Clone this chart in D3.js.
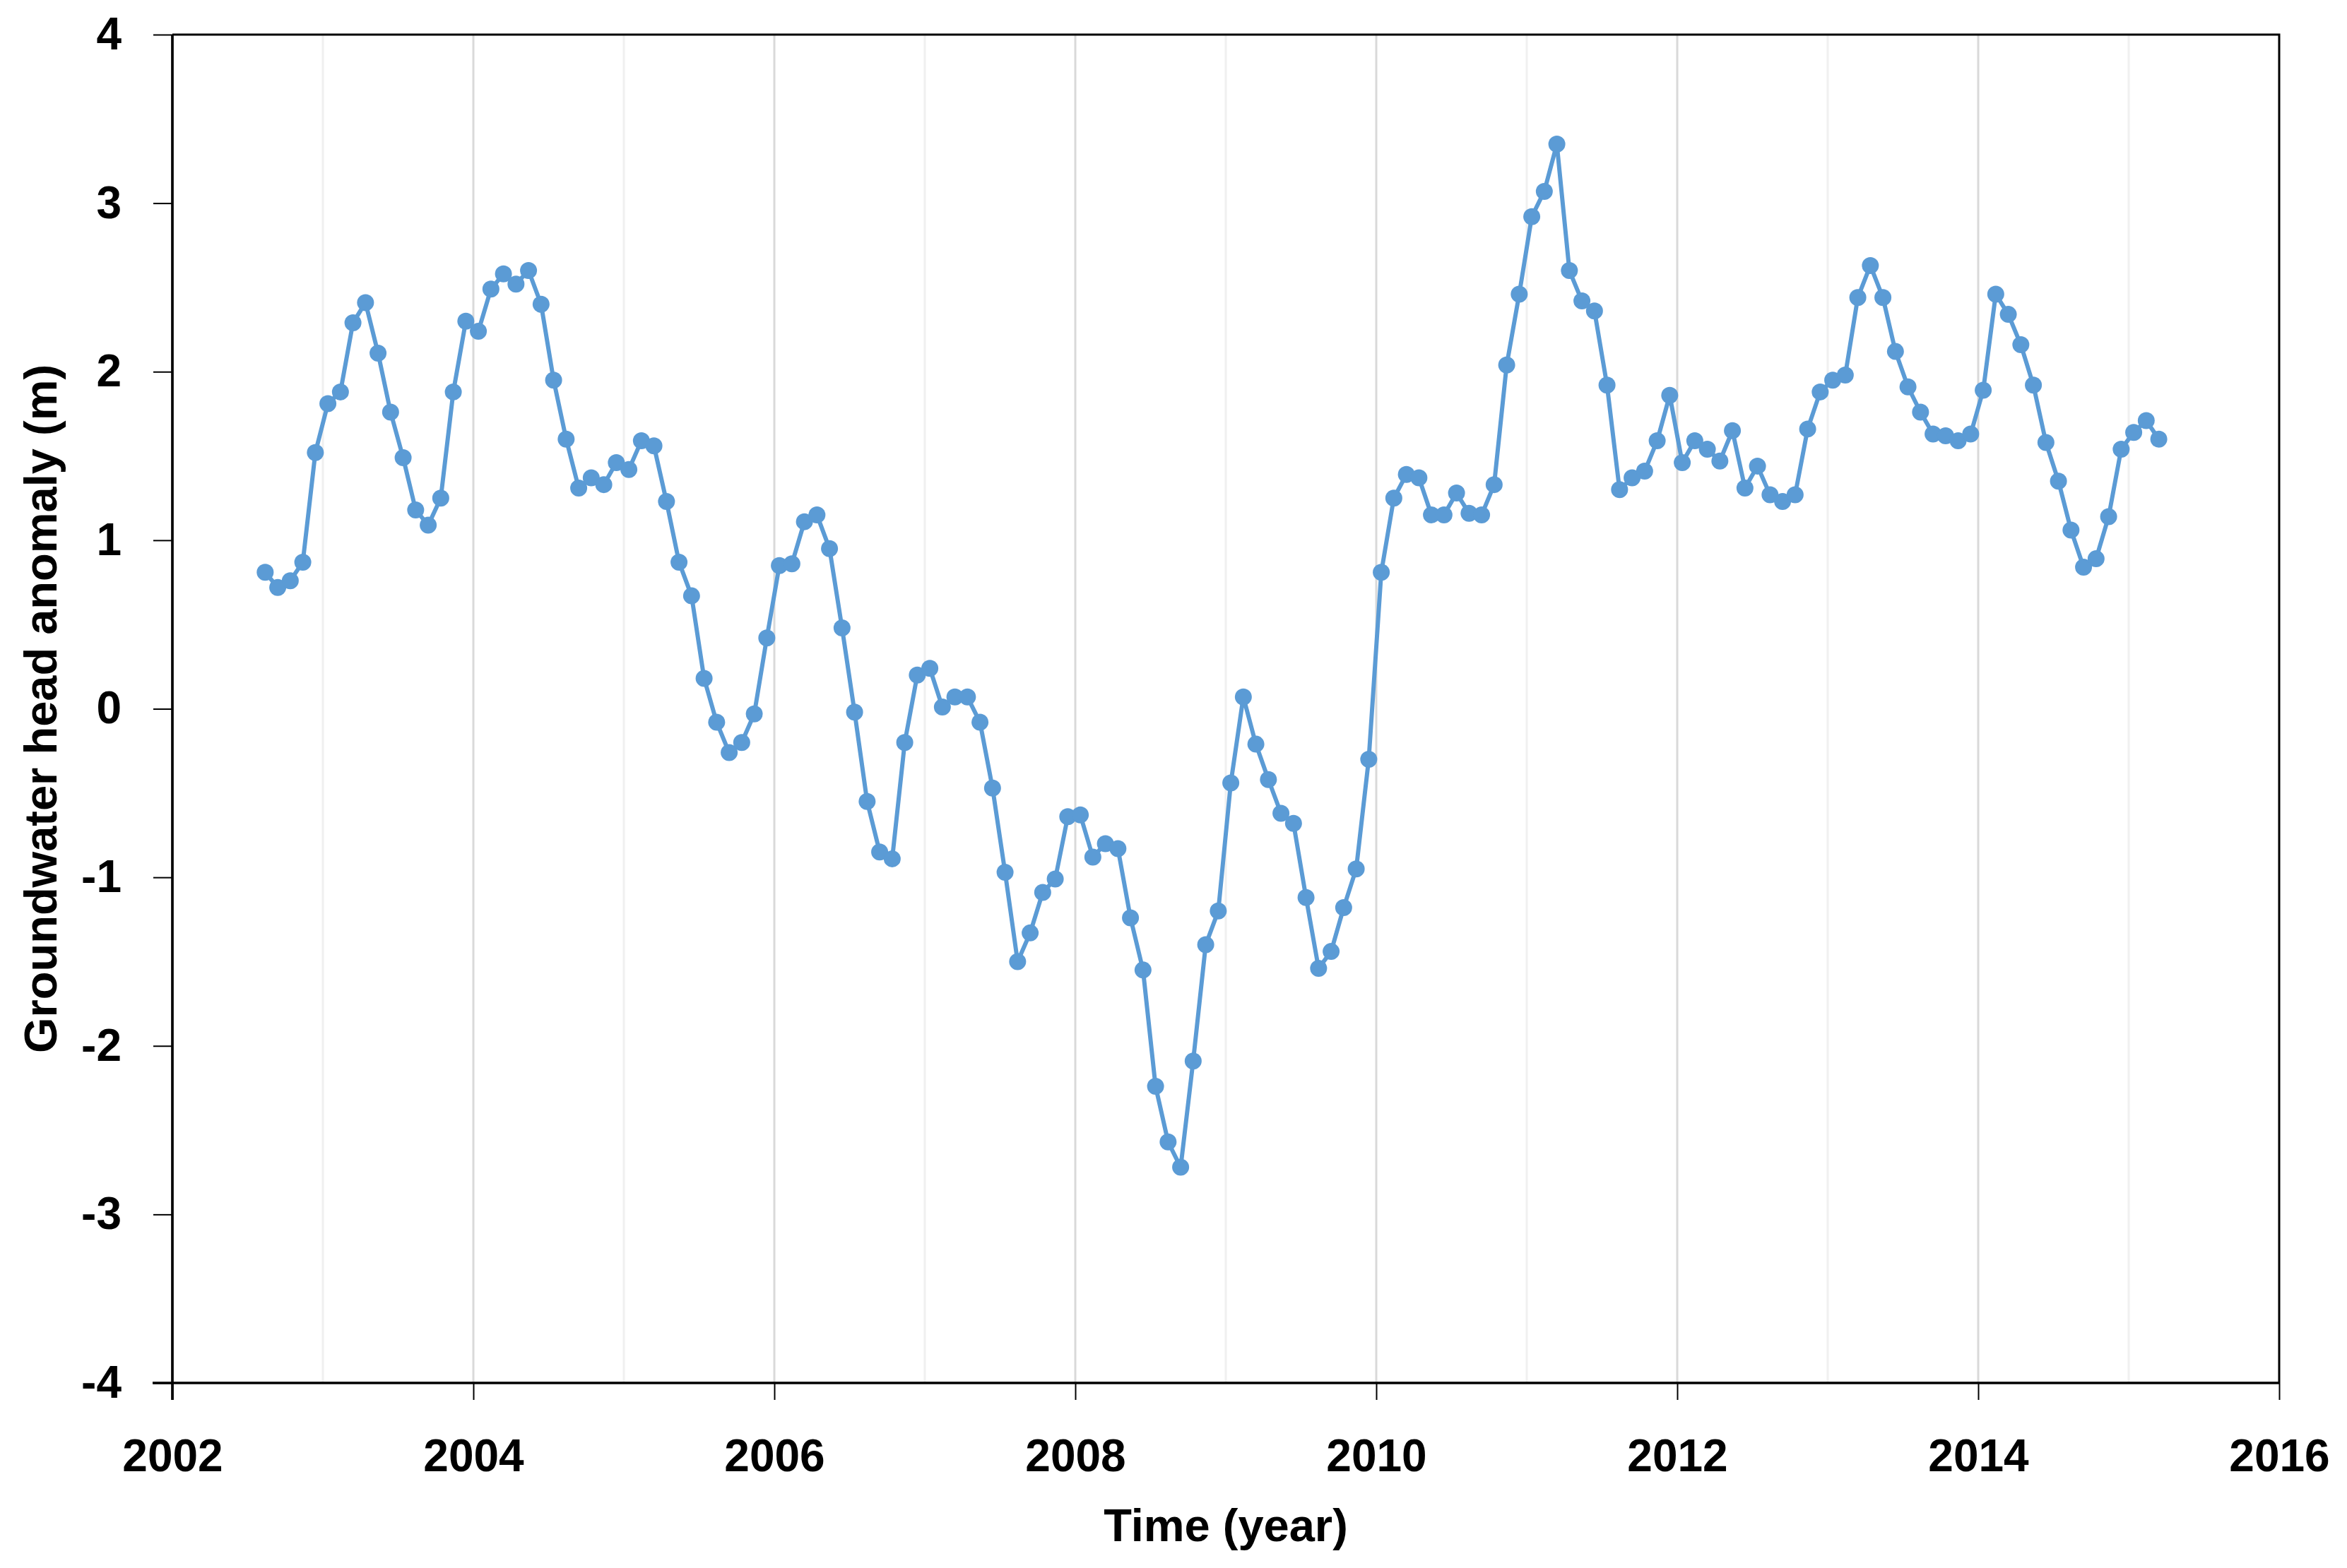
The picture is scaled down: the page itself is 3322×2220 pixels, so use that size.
<!DOCTYPE html>
<html>
<head>
<meta charset="utf-8">
<script src="https://cdn.jsdelivr.net/npm/d3@7"></script>
<style>
  body { margin: 0; background: #fff; }
  text { font-family: "Liberation Sans", Arial, sans-serif; font-weight: bold; fill: #000; }
</style>
</head>
<body>
<svg id="chart"></svg>
<script>
// monthly series, first value is Aug 2002
var startYear = 2002, startMonth = 8;
var values = [0.81,0.72,0.76,0.87,1.52,1.81,1.88,2.29,2.41,2.11,1.76,1.49,
  1.18,1.09,1.25,1.88,2.30,2.24,2.49,2.58,2.52,2.60,2.40,1.95,
  1.60,1.31,1.37,1.33,1.46,1.42,1.59,1.56,1.23,0.87,0.67,0.18,
  -0.08,-0.26,-0.20,-0.03,0.42,0.85,0.86,1.11,1.15,0.95,0.48,-0.02,
  -0.55,-0.85,-0.89,-0.20,0.20,0.24,0.01,0.07,0.07,-0.08,-0.47,-0.97,
  -1.50,-1.33,-1.09,-1.01,-0.64,-0.63,-0.88,-0.80,-0.83,-1.24,-1.55,-2.24,
  -2.57,-2.72,-2.09,-1.40,-1.20,-0.44,0.07,-0.21,-0.42,-0.62,-0.68,-1.12,
  -1.54,-1.44,-1.18,-0.95,-0.30,0.81,1.25,1.39,1.37,1.15,1.15,1.28,
  1.16,1.15,1.33,2.04,2.46,2.92,3.07,3.35,2.60,2.42,2.36,1.92,
  1.30,1.37,1.41,1.59,1.86,1.46,1.59,1.54,1.47,1.65,1.31,1.44,
  1.27,1.23,1.27,1.66,1.88,1.95,1.98,2.44,2.63,2.44,2.12,1.91,
  1.76,1.63,1.62,1.59,1.63,1.89,2.46,2.34,2.16,1.92,1.58,1.35,
  1.06,0.84,0.89,1.14,1.54,1.64,1.71,1.60];
var xTicks = [2002, 2004, 2006, 2008, 2010, 2012, 2014, 2016];
var gridYears = [2003, 2004, 2005, 2006, 2007, 2008, 2009, 2010, 2011, 2012, 2013, 2014, 2015];
var yTicks = [-4, -3, -2, -1, 0, 1, 2, 3, 4];

var W = 3322, H = 2220;
var margin = {top: 49, right: 96, bottom: 262, left: 244},
    width = W - margin.left - margin.right,
    height = H - margin.top - margin.bottom;

var svg = d3.select("#chart").attr("width", W).attr("height", H);
var g = svg.append("g").attr("transform", "translate(" + margin.left + "," + margin.top + ")");

var data = values.map(function(v, i) {
  // roughly mid-month, in decimal years
  return { t: startYear + (startMonth - 1 + i + 0.4) / 12, v: v };
});

var x = d3.scaleLinear().domain([2002, 2016]).range([0, width]);
var y = d3.scaleLinear().domain([-4, 4]).range([height, 0]);

// vertical gridlines, even years darker
g.selectAll(".grid")
  .data(gridYears)
  .enter().append("line")
    .attr("x1", function(d) { return x(d); })
    .attr("x2", function(d) { return x(d); })
    .attr("y1", 0).attr("y2", height)
    .attr("stroke", function(d) { return d % 2 == 0 ? "#d9d9d9" : "#f0f0f0"; })
    .attr("stroke-width", 3);

var line = d3.line()
  .x(function(d) { return x(d.t); })
  .y(function(d) { return y(d.v); });

g.append("path")
  .datum(data)
  .attr("d", line)
  .attr("fill", "none")
  .attr("stroke", "#5b9bd5")
  .attr("stroke-width", 6)
  .attr("stroke-linejoin", "round");

g.selectAll(".pt")
  .data(data)
  .enter().append("circle")
    .attr("cx", function(d) { return x(d.t); })
    .attr("cy", function(d) { return y(d.v); })
    .attr("r", 12)
    .attr("fill", "#5b9bd5");

// plot frame (top and right)
g.append("path")
  .attr("d", "M0,0H" + width + "V" + height)
  .attr("fill", "none")
  .attr("stroke", "#000")
  .attr("stroke-width", 3);

var xAxis = g.append("g")
  .attr("transform", "translate(0," + height + ")")
  .call(d3.axisBottom(x).tickValues(xTicks).tickFormat(function(d) { return String(d); }).tickSize(24).tickPadding(56));
xAxis.select(".domain").attr("stroke-width", 3.5).attr("d", "M-28,0H" + width);
xAxis.selectAll(".tick line").attr("stroke-width", 2);
xAxis.selectAll("text").style("font-size", "64px").attr("dy", "0.71em");

var yAxis = g.append("g")
  .call(d3.axisLeft(y).tickValues(yTicks).tickFormat(function(d) { return String(d); }).tickSize(27).tickPadding(45));
yAxis.select(".domain").attr("stroke-width", 3.7).attr("d", "M0,0V" + (height + 24));
yAxis.selectAll(".tick line").attr("stroke-width", 2);
yAxis.selectAll("text").style("font-size", "64px");

svg.append("text")
  .attr("x", margin.left + width / 2)
  .attr("y", 2182)
  .attr("text-anchor", "middle")
  .style("font-size", "65px")
  .text("Time (year)");

svg.append("text")
  .attr("transform", "translate(80," + (margin.top + height / 2) + ") rotate(-90)")
  .attr("text-anchor", "middle")
  .style("font-size", "65px")
  .text("Groundwater head anomaly (m)");
</script>
</body>
</html>
